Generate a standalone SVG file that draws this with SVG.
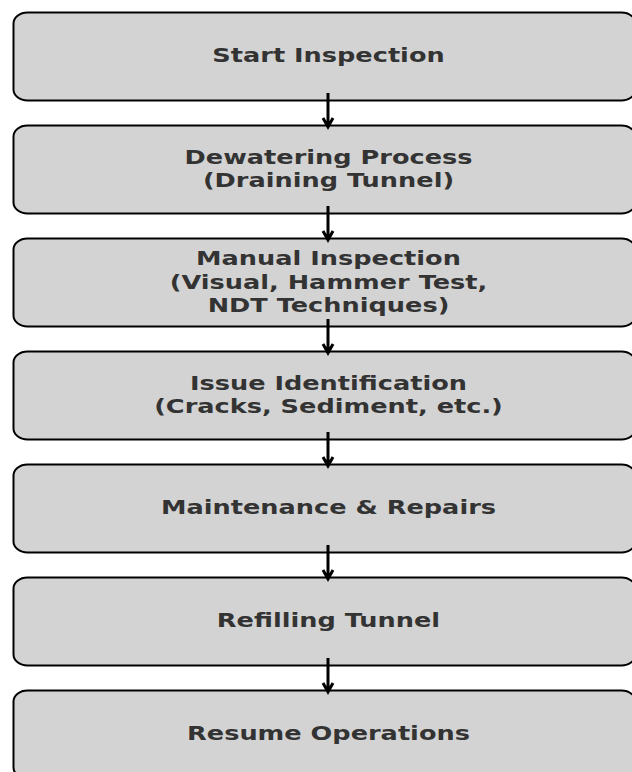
<svg xmlns="http://www.w3.org/2000/svg" width="632" height="772" viewBox="0 0 632 772">
<style>
.box{fill:#d3d3d3;stroke:#000;stroke-width:2}
.t{font-family:"DejaVu Sans",sans-serif;font-weight:bold;font-size:20px;fill:#333;text-anchor:middle}
.c{stroke:#000;stroke-width:3;fill:none}
</style>
<rect width="632" height="772" fill="#fff"/>
<g id="n1"><rect class="box" x="13.5" y="12.5" width="622" height="88" rx="14" ry="11"/><g transform="translate(328.5 0) scale(1.28 1)"><text class="t" x="0" y="62.3">Start Inspection</text></g></g>
<g id="n2"><rect class="box" x="13.5" y="125.5" width="622" height="88" rx="14" ry="11"/><g transform="translate(328.5 0) scale(1.28 1)"><text class="t" x="0" y="164">Dewatering Process</text><text class="t" x="0" y="187.5">(Draining Tunnel)</text></g></g>
<g id="n3"><rect class="box" x="13.5" y="238.5" width="622" height="88" rx="14" ry="11"/><g transform="translate(328.5 0) scale(1.28 1)"><text class="t" x="0" y="265.5">Manual Inspection</text><text class="t" x="0" y="289">(Visual, Hammer Test,</text><text class="t" x="0" y="312">NDT Techniques)</text></g></g>
<g id="n4"><rect class="box" x="13.5" y="351.5" width="622" height="88" rx="14" ry="11"/><g transform="translate(328.5 0) scale(1.28 1)"><text class="t" x="0" y="390">Issue Identification</text><text class="t" x="0" y="413.5">(Cracks, Sediment, etc.)</text></g></g>
<g id="n5"><rect class="box" x="13.5" y="464.5" width="622" height="88" rx="14" ry="11"/><g transform="translate(328.5 0) scale(1.28 1)"><text class="t" x="0" y="514.3">Maintenance &amp; Repairs</text></g></g>
<g id="n6"><rect class="box" x="13.5" y="577.5" width="622" height="88" rx="14" ry="11"/><g transform="translate(328.5 0) scale(1.28 1)"><text class="t" x="0" y="627.3">Refilling Tunnel</text></g></g>
<g id="n7"><rect class="box" x="13.5" y="690.5" width="622" height="88" rx="14" ry="11"/><g transform="translate(328.5 0) scale(1.28 1)"><text class="t" x="0" y="740.3">Resume Operations</text></g></g>
<g id="connectors">
<path class="c" d="M328 93V127M323 118L328 127L333 118"/>
<path class="c" d="M328 206V240M323 231L328 240L333 231"/>
<path class="c" d="M328 319V353M323 344L328 353L333 344"/>
<path class="c" d="M328 432V466M323 457L328 466L333 457"/>
<path class="c" d="M328 545V579M323 570L328 579L333 570"/>
<path class="c" d="M328 658V692M323 683L328 692L333 683"/>
</g>
</svg>
